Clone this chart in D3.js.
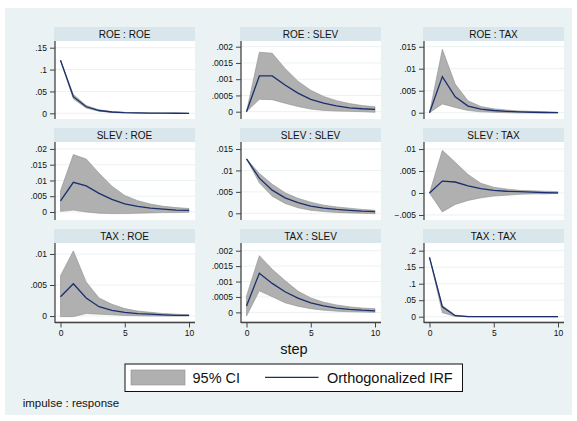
<!DOCTYPE html>
<html>
<head>
<meta charset="utf-8">
<script src="https://cdn.jsdelivr.net/npm/d3@7/dist/d3.min.js"></script>
<style>
  html, body { margin: 0; padding: 0; background: #ffffff; }
  svg { display: block; font-family: "Liberation Sans", Arial, Helvetica, sans-serif; }
</style>
</head>
<body>
<svg id="chart" width="577" height="421"></svg>
<script>
// ---------------- DATA ----------------
const steps = [0, 1, 2, 3, 4, 5, 6, 7, 8, 9, 10];
const xTicks = [0, 5, 10];
const panelTitles = ["ROE : ROE", "ROE : SLEV", "ROE : TAX",
                     "SLEV : ROE", "SLEV : SLEV", "SLEV : TAX",
                     "TAX : ROE", "TAX : SLEV", "TAX : TAX"];

const roeRoeIrf = [0.1215, 0.038, 0.015, 0.0064, 0.003, 0.0015, 0.0008, 0.0004, 0.0002, 0.0001, 0.00005];
const roeRoeLo  = [0.1215, 0.033, 0.012, 0.0048, 0.002, 0.0009, 0.0004, 0.0002, 0.0001, 0.00004, 0.00002];
const roeRoeHi  = [0.1215, 0.043, 0.018, 0.008, 0.004, 0.0021, 0.0012, 0.0006, 0.0003, 0.00016, 0.0001];

const roeSlevIrf = [0, 0.0011, 0.0011, 0.00082, 0.00057, 0.00038, 0.00026, 0.00018, 0.00012, 0.00009, 0.00007];
const roeSlevLo  = [0, 0.00038, 0.00037, 0.00026, 0.00016, 0.00008, 0.00004, 0.00002, 0.00001, 0, -0.00002];
const roeSlevHi  = [0, 0.00183, 0.0018, 0.00133, 0.00094, 0.00066, 0.00047, 0.00034, 0.00025, 0.00019, 0.00015];

const roeTaxIrf = [0, 0.0082, 0.0036, 0.0015, 0.0008, 0.0005, 0.0003, 0.0002, 0.0001, 0.00005, 0.00002];
const roeTaxLo  = [0, 0.002, 0.0012, 0.0005, 0.0002, 0.0001, 0, -0.00005, -0.00005, -0.00005, -0.00005];
const roeTaxHi  = [0, 0.0144, 0.0065, 0.0027, 0.0014, 0.0009, 0.0006, 0.0004, 0.0003, 0.0002, 0.0001];

const slevRoeIrf = [0.0035, 0.0094, 0.0083, 0.0059, 0.004, 0.0026, 0.0018, 0.0012, 0.0009, 0.0006, 0.0005];
const slevRoeLo  = [0.0002, 0.0006, 0, -0.0004, -0.0005, -0.0005, -0.0004, -0.0003, -0.0002, -0.0002, -0.0001];
const slevRoeHi  = [0.0067, 0.0182, 0.0168, 0.0123, 0.0082, 0.0052, 0.0036, 0.0025, 0.0018, 0.0014, 0.0011];

const slevSlevIrf = [0.0127, 0.0082, 0.0054, 0.0036, 0.0025, 0.0017, 0.0012, 0.0009, 0.0007, 0.0005, 0.0004];
const slevSlevLo  = [0.0127, 0.0071, 0.004, 0.0023, 0.0013, 0.0007, 0.0004, 0.0002, 0.0001, 0, -0.0001];
const slevSlevHi  = [0.0127, 0.0093, 0.0068, 0.0048, 0.0035, 0.0026, 0.0019, 0.0015, 0.0012, 0.0009, 0.0007];

const slevTaxIrf = [0, 0.0027, 0.0025, 0.0016, 0.001, 0.0006, 0.0004, 0.0003, 0.0002, 0.0001, 0.00005];
const slevTaxLo  = [0, -0.0043, -0.0026, -0.0017, -0.0011, -0.0007, -0.0005, -0.0003, -0.0002, -0.0002, -0.0001];
const slevTaxHi  = [0, 0.0097, 0.007, 0.0042, 0.0022, 0.0013, 0.0009, 0.0006, 0.0005, 0.0004, 0.0003];

const taxRoeIrf = [0.0031, 0.0052, 0.0029, 0.0015, 0.0009, 0.0006, 0.0004, 0.0003, 0.0002, 0.0001, 0.0001];
const taxRoeLo  = [-0.0001, -0.0001, 0.0004, 0.0003, 0.0002, 0.0001, 0.00005, 0, 0, 0, 0];
const taxRoeHi  = [0.0065, 0.0105, 0.0055, 0.0029, 0.0019, 0.0012, 0.0008, 0.0006, 0.0004, 0.0003, 0.0002];

const taxSlevIrf = [0.00021, 0.00127, 0.00094, 0.00067, 0.00046, 0.00031, 0.00021, 0.00014, 0.0001, 0.00007, 0.00005];
const taxSlevLo  = [-0.00012, 0.0007, 0.00051, 0.00031, 0.0002, 0.00012, 0.00007, 0.00004, 0.00002, 0.00001, 0];
const taxSlevHi  = [0.00053, 0.00184, 0.0014, 0.00103, 0.00069, 0.00047, 0.00033, 0.00024, 0.00018, 0.00014, 0.00012];

const taxTaxIrf = [0.18, 0.03, 0.003, 0.0005, 0.0001, 0, 0, 0, 0, 0, 0];
const taxTaxLo  = [0.18, 0.012, 0.001, 0.0001, 0, 0, 0, 0, 0, 0, 0];
const taxTaxHi  = [0.18, 0.034, 0.005, 0.001, 0.0002, 0, 0, 0, 0, 0, 0];

const yTicks = [
  [0, 0.05, 0.1, 0.15],
  [0, 0.0005, 0.001, 0.0015, 0.002],
  [0, 0.005, 0.01, 0.015],
  [0, 0.005, 0.01, 0.015, 0.02],
  [0, 0.005, 0.01, 0.015],
  [-0.005, 0, 0.005, 0.01],
  [0, 0.005, 0.01],
  [0, 0.0005, 0.001, 0.0015, 0.002],
  [0, 0.05, 0.1, 0.15, 0.2]
];
const yDomains = [
  [-0.013, 0.1653],
  [-0.000225, 0.002175],
  [-0.00143, 0.0163],
  [-0.00254, 0.0222],
  [-0.00156, 0.01663],
  [-0.00614, 0.0116],
  [-0.0008, 0.01177],
  [-0.00028, 0.00225],
  [-0.013, 0.2233]
];
const legendLabels = ["95% CI", "Orthogonalized IRF"];
const xTitle = "step";
const note = "impulse : response";

const panelData = [
  [roeRoeIrf, roeRoeLo, roeRoeHi],
  [roeSlevIrf, roeSlevLo, roeSlevHi],
  [roeTaxIrf, roeTaxLo, roeTaxHi],
  [slevRoeIrf, slevRoeLo, slevRoeHi],
  [slevSlevIrf, slevSlevLo, slevSlevHi],
  [slevTaxIrf, slevTaxLo, slevTaxHi],
  [taxRoeIrf, taxRoeLo, taxRoeHi],
  [taxSlevIrf, taxSlevLo, taxSlevHi],
  [taxTaxIrf, taxTaxLo, taxTaxHi]
];

// ---------------- LAYOUT ----------------
const svg = d3.select("#chart");
const BG = "#eaf2f3", STRIP = "#d9e6eb", CIFILL = "#b0b0b0", CISTROKE = "#8f8f8f", NAVY = "#1a2f6b";
const colLeft = [54, 240, 423];
const colW = 141;
const rowTop = [27, 128, 229];
const stripH = 14, plotH = 78;

svg.append("rect").attr("x", 5).attr("y", 8).attr("width", 567).attr("height", 407).attr("fill", BG);

function fmt(v) {
  if (v === 0) return "0";
  let s = String(+v.toPrecision(6));
  const neg = s.startsWith("-");
  if (neg) s = s.slice(1);
  if (s.startsWith("0.")) s = s.slice(1);
  return (neg ? "\u2212" : "") + s;
}

panelData.forEach((d, i) => {
  const r = Math.floor(i / 3), c = i % 3;
  const left = colLeft[c], right = colLeft[c] + colW;
  const top = rowTop[r] + stripH, bottom = top + plotH;
  const g = svg.append("g");

  // strip
  g.append("rect").attr("x", left).attr("y", rowTop[r]).attr("width", colW).attr("height", stripH).attr("fill", STRIP);
  g.append("text").attr("x", (left + right) / 2).attr("y", rowTop[r] + 10.8)
    .attr("text-anchor", "middle").attr("font-size", 10).attr("fill", "#111").text(panelTitles[i]);

  // plot region
  g.append("rect").attr("x", left + 1).attr("y", top).attr("width", colW - 1).attr("height", plotH).attr("fill", "#fff");

  const x = d3.scaleLinear().domain([0, 10]).range([left + 6.5, right - 6]);
  const y = d3.scaleLinear().domain(yDomains[i]).range([bottom, top]);

  // grid
  g.selectAll(".grid").data(yTicks[i]).enter().append("line")
    .attr("x1", left + 1).attr("x2", right)
    .attr("y1", v => y(v)).attr("y2", v => y(v))
    .attr("stroke", BG).attr("stroke-width", 1);

  // CI band
  const area = d3.area().x((v, k) => x(steps[k])).y0((v, k) => y(d[1][k])).y1((v, k) => y(d[2][k]));
  g.append("path").datum(d[0]).attr("d", area).attr("fill", CIFILL).attr("stroke", CISTROKE).attr("stroke-width", 0.6);

  // IRF line
  const line = d3.line().x((v, k) => x(steps[k])).y(v => y(v));
  g.append("path").datum(d[0]).attr("d", line).attr("fill", "none").attr("stroke", NAVY).attr("stroke-width", 1.3);

  // y axis
  const yAxis = d3.axisLeft(y).tickValues(yTicks[i]).tickSize(5).tickPadding(3).tickFormat(fmt);
  const ya = g.append("g").attr("transform", `translate(${left + 1},0)`).call(yAxis);
  ya.select(".domain").attr("d", `M0,${top}V${bottom + (r === 2 ? 2 : 0)}`).attr("stroke", "#444").attr("stroke-width", 1.3);
  ya.selectAll(".tick line").attr("stroke", "#444").attr("stroke-width", 1);
  ya.selectAll(".tick text").attr("font-size", 8.5).attr("fill", "#111").attr("font-family", "Liberation Sans, Arial, sans-serif");

  // x axis only for bottom row
  if (r === 2) {
    const xAxis = d3.axisBottom(x).tickValues(xTicks).tickSize(5).tickPadding(2).tickFormat(d3.format("d"));
    const xa = g.append("g").attr("transform", `translate(0,${bottom + 1.5})`).call(xAxis);
    xa.select(".domain").attr("d", `M${left + 1},0H${right}`).attr("stroke", "#444").attr("stroke-width", 1.3);
    xa.selectAll(".tick line").attr("stroke", "#444").attr("stroke-width", 1);
    xa.selectAll(".tick text").attr("font-size", 8.5).attr("fill", "#111").attr("font-family", "Liberation Sans, Arial, sans-serif");
  }
});

// x title
svg.append("text").attr("x", 294).attr("y", 354).attr("text-anchor", "middle")
  .attr("font-size", 14.5).attr("fill", "#111").text(xTitle);

// legend
const lg = svg.append("g");
lg.append("rect").attr("x", 125).attr("y", 364).attr("width", 337.5).attr("height", 27.5)
  .attr("fill", "#fff").attr("stroke", "#111").attr("stroke-width", 1);
lg.append("rect").attr("x", 131).attr("y", 370).attr("width", 54).attr("height", 15)
  .attr("fill", CIFILL).attr("stroke", CISTROKE).attr("stroke-width", 0.6);
lg.append("text").attr("x", 192.5).attr("y", 382.5).attr("font-size", 14.5).attr("fill", "#111").text(legendLabels[0]);
lg.append("line").attr("x1", 265).attr("x2", 318.5).attr("y1", 377.3).attr("y2", 377.3)
  .attr("stroke", NAVY).attr("stroke-width", 1.3);
lg.append("text").attr("x", 327).attr("y", 382.5).attr("font-size", 14.5).attr("fill", "#111").text(legendLabels[1]);

// note
svg.append("text").attr("x", 22.7).attr("y", 406.5).attr("font-size", 11.5).attr("fill", "#111").text(note);
</script>
</body>
</html>
